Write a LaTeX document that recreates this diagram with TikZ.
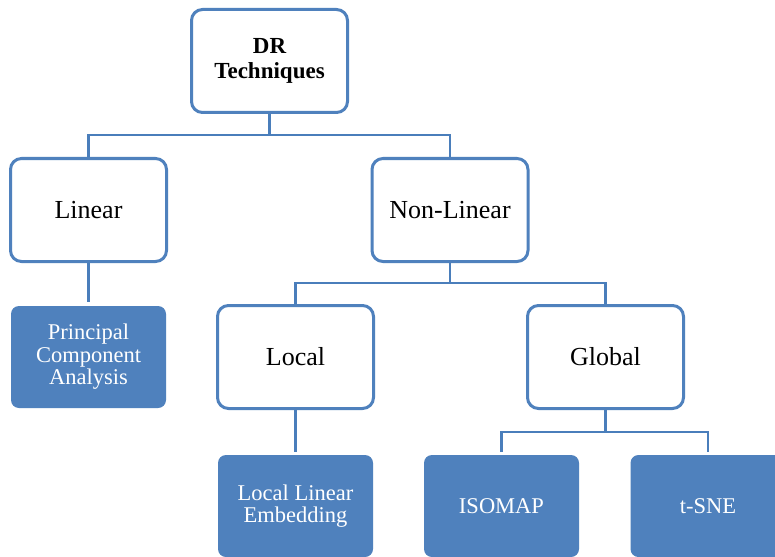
\documentclass[tikz,border=0pt]{standalone}
\usepackage{fontspec}
\setmainfont{Liberation Serif}
\definecolor{dblue}{HTML}{4F81BD}
\definecolor{lblue}{HTML}{4A7EBB}
\tikzset{
  wbox/.style={draw=dblue, line width=3pt, fill=white, rounded corners=11pt,
    minimum width=156pt, minimum height=103pt, inner sep=0pt, align=center,
    font=\fontsize{26}{29}\selectfont},
  bbox/.style={fill=dblue, rounded corners=8pt, text=white,
    minimum width=155pt, minimum height=102pt, inner sep=0pt, align=center,
    font=\fontsize{22.5}{22.5}\selectfont},
  conn/.style={draw=lblue, line width=2.8pt}
}
\begin{document}
\begin{tikzpicture}[x=1pt,y=-1pt]
\clip (0,0) rectangle (775,556);
\fill[white] (0,0) rectangle (775,556);
\node[wbox, font=\bfseries\fontsize{23}{25}\selectfont] (dr) at (269.5,61) {DR\\Techniques};
\node[wbox] (lin) at (88.5,210) {Linear};
\node[wbox] (nl) at (450,210) {Non-Linear};
\node[wbox] (loc) at (295.5,357) {Local};
\node[wbox] (glo) at (605.5,357) {Global};
\node[bbox] (pca) at (88.5,357) {Principal\\Component\\Analysis};
\node[bbox] (lle) at (295.5,506) {Local Linear\\Embedding};
\node[bbox] (iso) at (501.5,506) {ISOMAP};
\node[bbox] (tsne) at (708,506) {t-SNE};
\coordinate (b1) at (269.5,135);
\coordinate (b2) at (450,283);
\coordinate (b3) at (605.5,432);
\draw[conn] (dr.south) -- (b1);
\draw[conn] (lin.north) -- (lin.north |- b1) -- (nl.north |- b1) -- (nl.north);
\draw[conn] (lin.south) -- ([yshift=4pt]pca.north);
\draw[conn] (nl.south) -- (b2);
\draw[conn] (loc.north) -- (loc.north |- b2) -- (glo.north |- b2) -- (glo.north);
\draw[conn] (loc.south) -- ([yshift=3pt]lle.north);
\draw[conn] (glo.south) -- (b3);
\draw[conn] ([yshift=3pt]iso.north) -- (iso.north |- b3) -- (tsne.north |- b3) -- ([yshift=3pt]tsne.north);
\end{tikzpicture}
\end{document}
